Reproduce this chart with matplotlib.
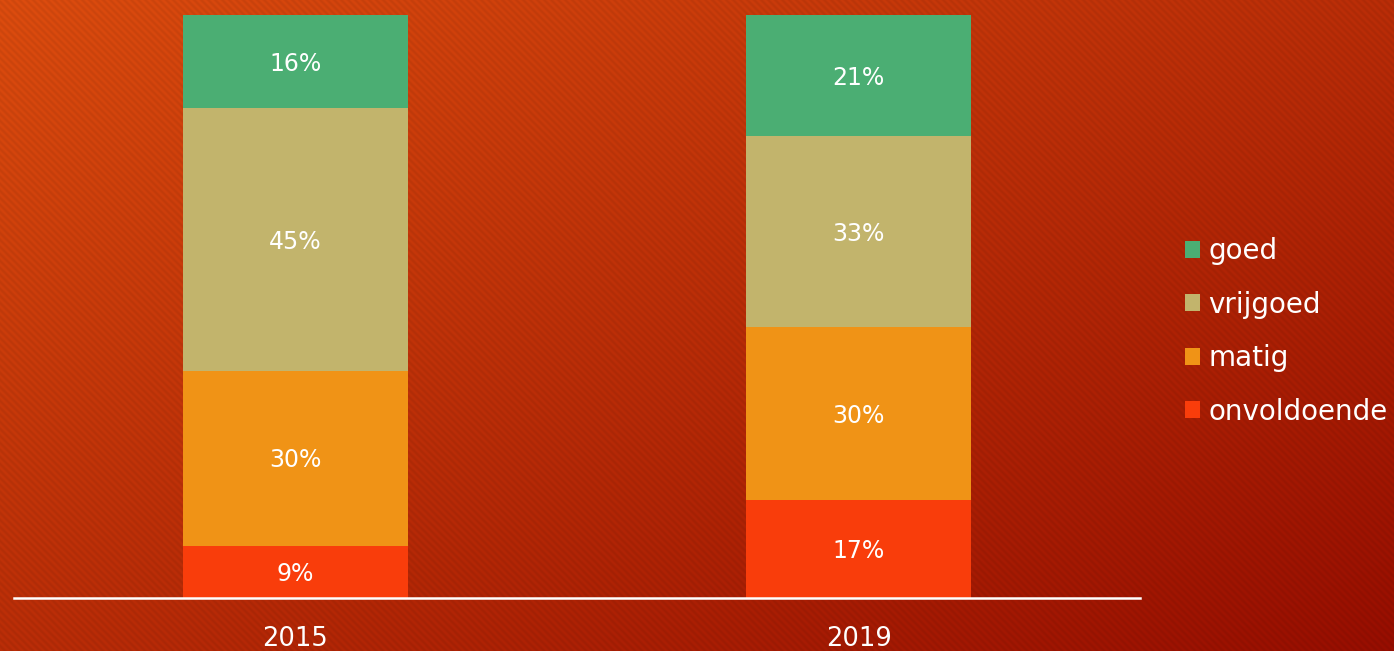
import numpy as np
import matplotlib
matplotlib.use("Agg")
import matplotlib.pyplot as plt
from matplotlib.patches import Patch

years = ["2015", "2019"]
categories = ["onvoldoende", "matig", "vrijgoed", "goed"]
values = {
    "onvoldoende": [9, 17],
    "matig": [30, 30],
    "vrijgoed": [45, 33],
    "goed": [16, 21],
}
colors = {
    "onvoldoende": "#F93D0B",
    "matig": "#F09316",
    "vrijgoed": "#C2B46C",
    "goed": "#4BAE73",
}

W, H = 1394, 651
fig = plt.figure(figsize=(W / 100, H / 100), dpi=100)

# background: diagonal gradient with faint stripes
bg = fig.add_axes([0, 0, 1, 1], zorder=0)
yy, xx = np.mgrid[0:H, 0:W]
t = (xx / W + yy / H) / 2
c0 = np.array([0xD6, 0x4A, 0x0E]) / 255
c1 = np.array([0x93, 0x0D, 0x00]) / 255
img = c0[None, None, :] * (1 - t[..., None]) + c1[None, None, :] * t[..., None]
stripes = 1 + 0.035 * np.sin(2 * np.pi * (xx - yy) / 7.0)
img = np.clip(img * stripes[..., None], 0, 1)
bg.imshow(img, aspect="auto", interpolation="nearest")
bg.axis("off")

ax = fig.add_axes([14 / W, 53 / H, 1126 / W, 583 / H], zorder=1)
ax.patch.set_alpha(0)

totals = np.sum([values[c] for c in categories], axis=0)
x = np.arange(len(years))
bottom = np.zeros(len(years))
for cat in categories:
    v = np.array(values[cat], dtype=float)
    h = v / totals
    ax.bar(x, h, 0.4, bottom=bottom, color=colors[cat], edgecolor="none")
    for xi, bi, hi, vi in zip(x, bottom, h, v):
        ax.text(xi, bi + hi / 2 - 0.004, f"{int(vi)}%", ha="center", va="center",
                color="white", fontsize=17)
    bottom += h

ax.set_xlim(-0.5, 1.5)
ax.set_ylim(0, 1)
ax.set_yticks([])
ax.set_xticks(x)
ax.set_xticklabels(years, color="white", fontsize=18.5)
ax.tick_params(axis="x", length=0, pad=20)
for s in ["top", "left", "right"]:
    ax.spines[s].set_visible(False)
ax.spines["bottom"].set_color("white")
ax.spines["bottom"].set_linewidth(1.8)

handles = [Patch(facecolor=colors[c], edgecolor="none") for c in categories[::-1]]
leg = fig.legend(handles, categories[::-1], loc="upper left",
                 bbox_to_anchor=(1160 / W, 1 - 212 / H), frameon=False,
                 fontsize=20, labelcolor="white", handlelength=0.55,
                 handleheight=0.55, handletextpad=0.3, labelspacing=0.92)

fig.savefig("out.png", dpi=100)
